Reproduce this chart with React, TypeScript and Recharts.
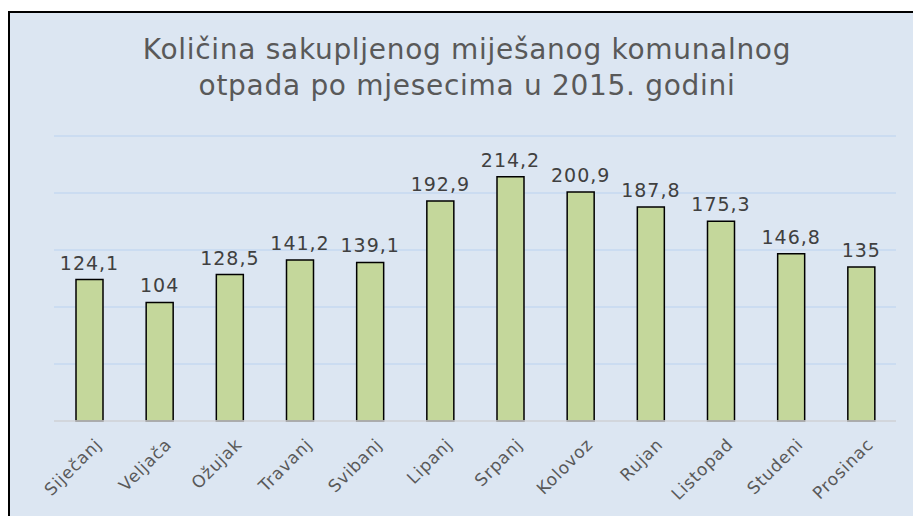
import { Bar, BarChart, CartesianGrid, LabelList, XAxis, YAxis } from "recharts";

const MONTHS = [
  "Siječanj",
  "Veljača",
  "Ožujak",
  "Travanj",
  "Svibanj",
  "Lipanj",
  "Srpanj",
  "Kolovoz",
  "Rujan",
  "Listopad",
  "Studeni",
  "Prosinac",
];

const AMOUNTS = [124.1, 104, 128.5, 141.2, 139.1, 192.9, 214.2, 200.9, 187.8, 175.3, 146.8, 135];

const Y_TICKS = [0, 50, 100, 150, 200, 250];

const TITLE_LINES = ["Količina sakupljenog miješanog komunalnog", "otpada po mjesecima u 2015. godini"];

const FONT = "'DejaVu Sans', Verdana, sans-serif";

const data = MONTHS.map((month, i) => ({ month, amount: AMOUNTS[i] }));

function MonthTick(props: any) {
  const { x, y, payload } = props;
  return (
    <g transform={`translate(${x + 10},${y + 13})`}>
      <text
        textAnchor="end"
        transform="rotate(-45)"
        fontSize={17}
        letterSpacing={0.8}
        fill="#595959"
        fontFamily={FONT}
        dy={5}
      >
        {payload.value}
      </text>
    </g>
  );
}

export default function App() {
  return (
    <div
      style={{
        position: "fixed",
        left: 8,
        top: 11,
        width: 903,
        height: 503,
        overflow: "hidden",
        background: "#dce6f2",
        borderTop: "2px solid #000",
        borderLeft: "2px solid #000",
        fontFamily: FONT,
      }}
    >
      {/* Title */}
      <div
        style={{
          position: "absolute",
          left: 0,
          top: 19,
          width: 903,
          paddingLeft: 11,
          boxSizing: "border-box",
          textAlign: "center",
          fontSize: 28,
          letterSpacing: 0.7,
          lineHeight: "36px",
          color: "#595959",
        }}
      >
        {TITLE_LINES.map((line) => (
          <div key={line}>{line}</div>
        ))}
      </div>

      <BarChart
        width={903}
        height={503}
        data={data}
        margin={{ top: 123, right: 17, bottom: 0, left: 44 }}
      >
        <CartesianGrid vertical={false} stroke="#c6d9f0" strokeWidth={1.5} />
        <YAxis hide domain={[0, 250]} ticks={Y_TICKS} />
        <XAxis
          dataKey="month"
          interval={0}
          height={95}
          tickLine={false}
          axisLine={{ stroke: "#d4d4d4", strokeWidth: 1.5 }}
          tick={<MonthTick />}
        />
        <Bar
          dataKey="amount"
          fill="#c4d79b"
          stroke="#000"
          strokeWidth={1.5}
          barSize={27}
          isAnimationActive={false}
        >
          <LabelList
            dataKey="amount"
            position="top"
            offset={10}
            fontSize={19}
            letterSpacing={1}
            fill="#404040"
            fontFamily={FONT}
            formatter={(v: any) => String(v).replace(".", ",")}
          />
        </Bar>
      </BarChart>
    </div>
  );
}
